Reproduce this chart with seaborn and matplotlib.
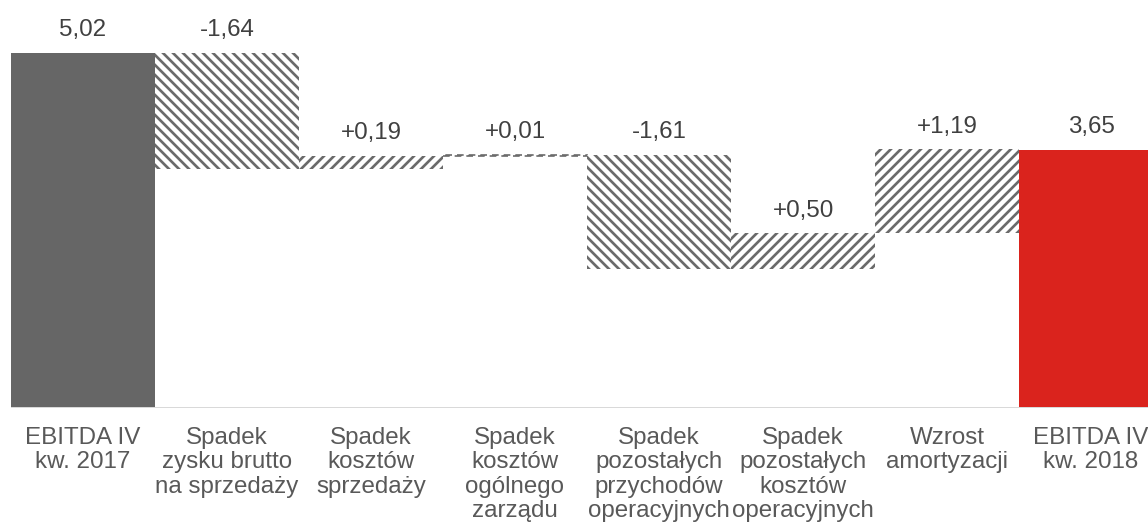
import matplotlib
matplotlib.use("Agg")
import matplotlib.pyplot as plt
import seaborn as sns
import pandas as pd

categories = ["EBITDA IV\nkw. 2017", "Spadek\nzysku brutto\nna sprzedaży", "Spadek\nkosztów\nsprzedaży",
              "Spadek\nkosztów\nogólnego\nzarządu", "Spadek\npozostałych\nprzychodów\noperacyjnych",
              "Spadek\npozostałych\nkosztów\noperacyjnych", "Wzrost\namortyzacji", "EBITDA IV\nkw. 2018"]
values = [5.02, -1.64, 0.19, 0.01, -1.61, 0.50, 1.19, 3.65]
kinds = ["total", "delta", "delta", "delta", "delta", "delta", "delta", "total"]
value_labels = ["5,02", "-1,64", "+0,19", "+0,01", "-1,61", "+0,50", "+1,19", "3,65"]

# waterfall bottoms / heights
bottoms = []
heights = []
running = 0
for v, k in zip(values, kinds):
    if k == "total":
        bottoms.append(0)
        heights.append(v)
        running = v
    else:
        bottoms.append(min(running, running + v))
        heights.append(abs(v))
        running += v

df = pd.DataFrame({"cat": categories, "height": heights, "bottom": bottoms})

sns.set_style("white")
plt.rcParams["font.family"] = ["Liberation Sans", "DejaVu Sans"]
plt.rcParams["hatch.linewidth"] = 1.6

dpi = 120
fig = plt.figure(figsize=(1148 / dpi, 532 / dpi), dpi=dpi)
ax = fig.add_axes([11 / 1148, 124 / 532, 1 - 11 / 1148, 408 / 532])

sns.barplot(data=df, x="cat", y="height", bottom=df["bottom"].values, width=1.0, ax=ax,
            color="#666666", saturation=1, linewidth=0)

gray = "#6b6b6b"
for i, p in enumerate(ax.patches):
    if i == 0:
        p.set_facecolor("#666666")
    elif i == len(values) - 1:
        p.set_facecolor("#da231d")
    else:
        p.set_facecolor("white")
        p.set_edgecolor(gray)
        p.set_linewidth(0)
        p.set_hatch("\\\\\\\\" if values[i] < 0 else "////")
        if abs(values[i]) < 0.05:
            p.set_hatch(None)
            p.set_linewidth(1.0)
            p.set_linestyle((0, (4, 3)))

for i, lab in enumerate(value_labels):
    top = bottoms[i] + heights[i]
    ax.annotate(lab, (i, top), xytext=(0, 10), textcoords="offset points",
                ha="center", va="baseline", fontsize=14.5, color="#404040")

ax.axhline(0, color="#d9d9d9", linewidth=1.2, zorder=5)
ax.set_xlim(-0.5, (1148 - 11) / 144 - 0.5)
ax.set_ylim(0, 408 / 70.7)
ax.set_xlabel("")
ax.set_ylabel("")
ax.set_yticks([])
ax.tick_params(axis="x", length=0, pad=11.5, labelsize=14.5, labelcolor="#595959")
for t in ax.get_xticklabels():
    t.set_linespacing(1.13)
sns.despine(ax=ax, left=True, bottom=True)

fig.savefig("out.png", dpi=dpi)
